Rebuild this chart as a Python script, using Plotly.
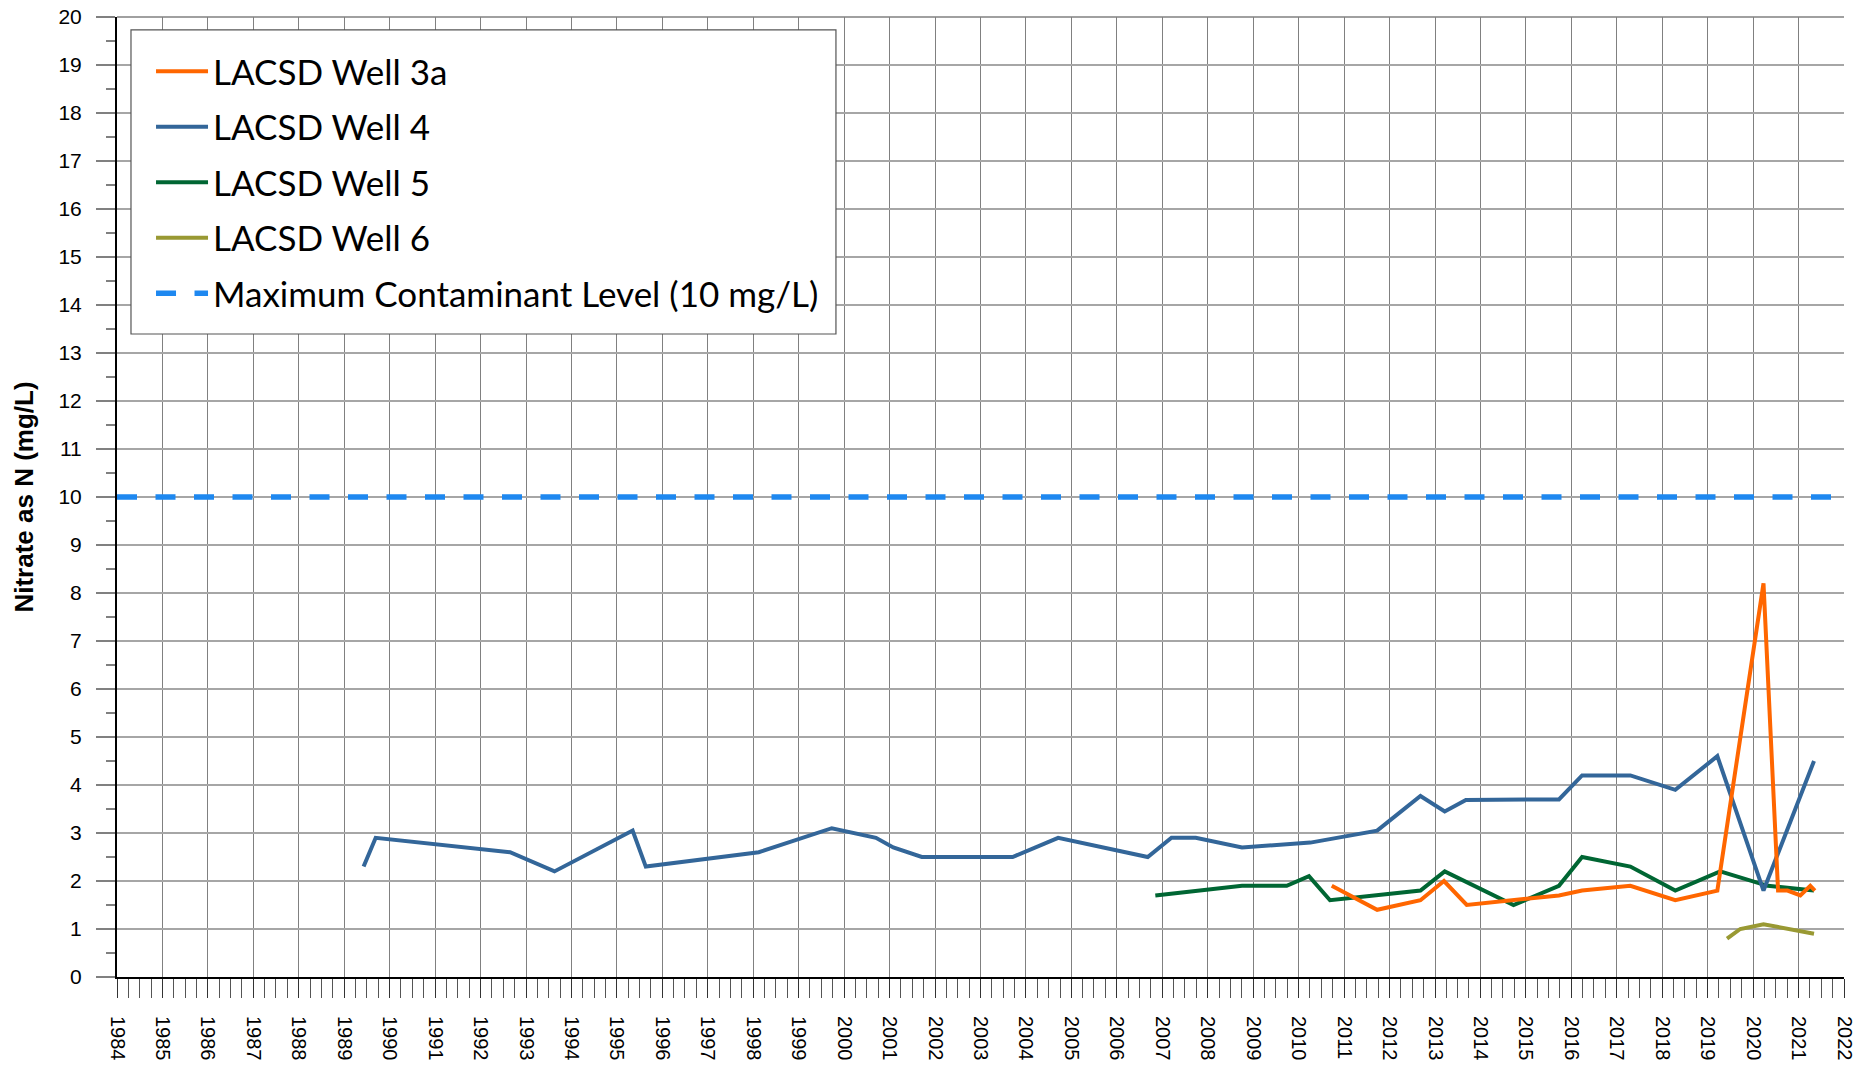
import plotly.graph_objects as go

# Sample dates and nitrate (mg/L as N)
well4_dates = ["1989-06-05", "1989-09-10", "1992-08-25", "1993-08-17", "1995-05-07",
               "1995-08-21", "1998-02-14", "1999-09-24", "2000-09-13", "2001-01-30",
               "2001-09-16", "2003-09-16", "2004-09-16", "2006-09-06", "2007-03-16",
               "2007-09-27", "2008-10-03", "2010-04-05", "2011-09-24", "2012-09-06",
               "2013-03-20", "2013-09-06", "2015-09-24", "2016-03-28", "2017-04-20",
               "2018-04-16", "2019-03-20", "2020-03-25", "2021-05-05"]
well4_vals = [2.3, 2.9, 2.6, 2.2, 3.05, 2.3, 2.6, 3.1, 2.9, 2.7,
              2.5, 2.5, 2.9, 2.5, 2.9, 2.9, 2.7, 2.8, 3.05, 3.77,
              3.45, 3.69, 3.7, 4.2, 4.2, 3.9, 4.6, 1.8, 4.5]

well5_dates = ["2006-11-06", "2008-10-03", "2009-09-27", "2010-03-25", "2010-09-10",
               "2012-09-06", "2013-03-20", "2014-09-24", "2015-09-24", "2016-03-28",
               "2017-04-20", "2018-04-16", "2019-04-12", "2020-04-28", "2021-05-05"]
well5_vals = [1.7, 1.9, 1.9, 2.1, 1.6, 1.8, 2.2, 1.5, 1.9, 2.5, 2.3, 1.8, 2.2, 1.9, 1.8]

well3a_dates = ["2010-09-24", "2011-09-24", "2012-09-06", "2013-03-14", "2013-09-13",
                "2015-09-24", "2016-03-28", "2017-04-20", "2018-04-16", "2019-03-20",
                "2020-03-25", "2020-07-20", "2020-10-04", "2021-01-15", "2021-04-05",
                "2021-05-12"]
well3a_vals = [1.9, 1.4, 1.6, 2.0, 1.5, 1.7, 1.8, 1.9, 1.6, 1.8,
               8.2, 1.8, 1.8, 1.7, 1.9, 1.8]

well6_dates = ["2019-06-06", "2019-09-20", "2020-03-25", "2021-05-05"]
well6_vals = [0.8, 1.0, 1.1, 0.9]

mcl_dates = ["1984-01-01", "2022-01-01"]
mcl_vals = [10, 10]

fig = go.Figure()

# MCL first so the well lines sit on top
fig.add_trace(go.Scatter(
    x=mcl_dates, y=mcl_vals, mode="lines", name="Maximum Contaminant Level (10 mg/L)",
    line=dict(color="#1E88F0", width=5.5, dash="20px,18.5px"),
    legendrank=5, legendgroup="mcl"))
fig.add_trace(go.Scatter(
    x=well5_dates, y=well5_vals, mode="lines", name="LACSD Well 5",
    line=dict(color="#006633", width=4), legendrank=3, legendgroup="w5"))
fig.add_trace(go.Scatter(
    x=well6_dates, y=well6_vals, mode="lines", name="LACSD Well 6",
    line=dict(color="#999933", width=4), legendrank=4, legendgroup="w6"))
fig.add_trace(go.Scatter(
    x=well4_dates, y=well4_vals, mode="lines", name="LACSD Well 4",
    line=dict(color="#336699", width=4), legendrank=2, legendgroup="w4"))
fig.add_trace(go.Scatter(
    x=well3a_dates, y=well3a_vals, mode="lines", name="LACSD Well 3a",
    line=dict(color="#FF6600", width=4), legendrank=1, legendgroup="w3a"))

# top border of the plot area
fig.add_shape(type="line", xref="paper", yref="paper", x0=0, x1=1, y0=1, y1=1,
              line=dict(color="#808080", width=1.5), layer="below")

# legend frame (white box over the grid)
fig.add_shape(type="rect", xref="paper", yref="paper",
              x0=0.0081, x1=0.4163, y0=0.6698, y1=0.9865,
              fillcolor="white", line=dict(color="#555555", width=1.2), layer="above")

# the page body adds an 8px offset, so the figure is 8px smaller
fig.update_layout(
    width=1861, height=1058,
    margin=dict(l=109, r=25, t=9, b=89),
    plot_bgcolor="white", paper_bgcolor="white",
    font=dict(family="Liberation Sans, Arial", size=20, color="black"),
    showlegend=True,
    legend=dict(
        x=0.0197, y=0.974, xanchor="left", yanchor="top",
        bgcolor="rgba(0,0,0,0)", borderwidth=0,
        font=dict(family="Lato", size=35, color="black"),
        tracegroupgap=7, itemwidth=52,
    ),
)

fig.update_xaxes(
    type="date", range=["1984-01-01", "2022-01-01"], automargin=False,
    dtick="M12", tick0="1984-01-01", tickformat="%Y", tickangle=90,
    ticks="outside", ticklen=19, tickcolor="#333333", tickwidth=1,
    ticklabelstandoff=14, ticklabeloverflow="allow",
    showgrid=True, gridcolor="#808080", gridwidth=1,
    showline=True, linecolor="black", linewidth=2,
    minor=dict(dtick="M3", ticks="outside", ticklen=19, tickcolor="#555555", showgrid=False),
    zeroline=False,
)
fig.update_yaxes(
    range=[0, 20], dtick=1, tick0=0, automargin=False,
    ticks="outside", ticklen=19, tickcolor="#808080", tickwidth=1.5,
    ticklabelstandoff=10, tickfont=dict(size=21), ticklabeloverflow="allow",
    showgrid=True, gridcolor="#A6A6A6", gridwidth=1.5,
    showline=True, linecolor="black", linewidth=2,
    minor=dict(dtick=0.5, ticks="outside", ticklen=9, tickcolor="#808080", showgrid=False),
    zeroline=False,
    title=dict(text="<b>Nitrate as N (mg/L)</b>", font=dict(size=26), standoff=17),
)

fig.write_html("out.html")
